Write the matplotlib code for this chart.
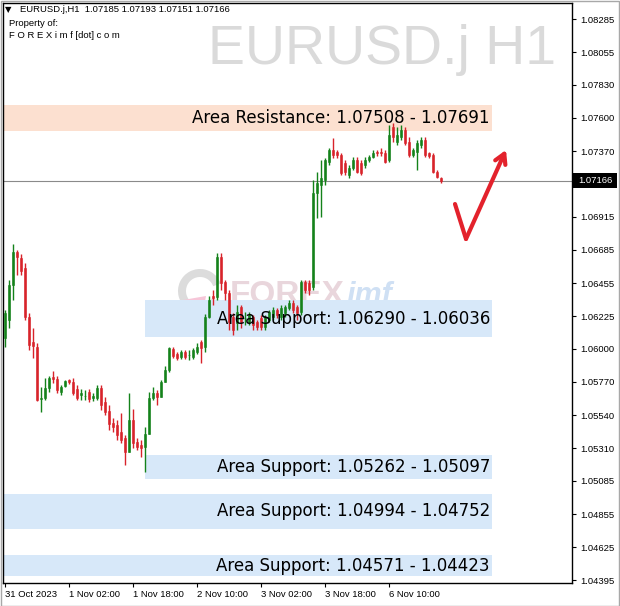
import numpy as np
import matplotlib
matplotlib.use('Agg')
import matplotlib.pyplot as plt
from matplotlib.patches import Rectangle, Wedge, Polygon
from matplotlib.transforms import IdentityTransform

plt.rcParams["font.family"] = ["Liberation Sans", "DejaVu Sans"]

# EURUSD.j H1 bars, 31 Oct 10:00 -> 6 Nov 23:00
opens = [1.06075, 1.06199, 1.06442, 1.06671, 1.06629, 1.06560, 1.06220, 1.06047, 1.06012, 1.05652,
         1.05659, 1.05728, 1.05804, 1.05791, 1.05700, 1.05742, 1.05784, 1.05770, 1.05721, 1.05680,
         1.05673, 1.05700, 1.05659, 1.05659, 1.05728, 1.05631, 1.05569, 1.05486, 1.05472, 1.05423,
         1.05382, 1.05285, 1.05506, 1.05354, 1.05333, 1.05319, 1.05409, 1.05659, 1.05694, 1.05666,
         1.05770, 1.05853, 1.05998, 1.05964, 1.05943, 1.05978, 1.05957, 1.05943, 1.05978, 1.06047,
         1.06012, 1.06220, 1.06366, 1.06359, 1.06636, 1.06463, 1.06387, 1.06220, 1.06179, 1.06290,
         1.06213, 1.06186, 1.06220, 1.06186, 1.06213, 1.06151, 1.06199, 1.06220, 1.06269, 1.06220,
         1.06248, 1.06283, 1.06317, 1.06290, 1.06255, 1.06463, 1.06456, 1.06428, 1.07080, 1.07135,
         1.07170, 1.07294, 1.07378, 1.07364, 1.07343, 1.07287, 1.07204, 1.07253, 1.07308, 1.07287,
         1.07274, 1.07308, 1.07329, 1.07364, 1.07364, 1.07357, 1.07308, 1.07537, 1.07433, 1.07468,
         1.07516, 1.07433, 1.07343, 1.07364, 1.07412, 1.07447, 1.07357, 1.07343, 1.07225, 1.07185]
highs = [1.06269, 1.06477, 1.06726, 1.06685, 1.06657, 1.06594, 1.06248, 1.06144, 1.06040, 1.05735,
         1.05797, 1.05811, 1.05846, 1.05811, 1.05749, 1.05784, 1.05791, 1.05797, 1.05749, 1.05721,
         1.05714, 1.05721, 1.05694, 1.05749, 1.05749, 1.05666, 1.05610, 1.05520, 1.05506, 1.05555,
         1.05402, 1.05694, 1.05583, 1.05382, 1.05368, 1.05458, 1.05700, 1.05735, 1.05714, 1.05784,
         1.05881, 1.06012, 1.06012, 1.05978, 1.05992, 1.05992, 1.05992, 1.06005, 1.06040, 1.06061,
         1.06241, 1.06366, 1.06407, 1.06664, 1.06664, 1.06477, 1.06407, 1.06248, 1.06303, 1.06303,
         1.06255, 1.06255, 1.06234, 1.06199, 1.06234, 1.06234, 1.06269, 1.06290, 1.06283, 1.06303,
         1.06303, 1.06338, 1.06338, 1.06303, 1.06477, 1.06477, 1.06477, 1.07170, 1.07225, 1.07308,
         1.07322, 1.07391, 1.07461, 1.07378, 1.07357, 1.07308, 1.07274, 1.07329, 1.07329, 1.07308,
         1.07329, 1.07343, 1.07378, 1.07378, 1.07391, 1.07378, 1.07551, 1.07565, 1.07537, 1.07551,
         1.07537, 1.07468, 1.07391, 1.07447, 1.07468, 1.07468, 1.07364, 1.07357, 1.07239, 1.07193]
lows = [1.06012, 1.06144, 1.06338, 1.06511, 1.06511, 1.06199, 1.05992, 1.05936, 1.05638, 1.05562,
        1.05645, 1.05700, 1.05763, 1.05694, 1.05680, 1.05735, 1.05756, 1.05680, 1.05645, 1.05645,
        1.05645, 1.05631, 1.05638, 1.05645, 1.05576, 1.05541, 1.05437, 1.05423, 1.05368, 1.05347,
        1.05195, 1.05285, 1.05312, 1.05299, 1.05250, 1.05146, 1.05409, 1.05645, 1.05610, 1.05666,
        1.05770, 1.05839, 1.05936, 1.05922, 1.05929, 1.05929, 1.05922, 1.05929, 1.05964, 1.05901,
        1.05978, 1.06213, 1.06303, 1.06338, 1.06407, 1.06338, 1.06130, 1.06095, 1.06130, 1.06144,
        1.06165, 1.06165, 1.06130, 1.06130, 1.06130, 1.06130, 1.06186, 1.06199, 1.06213, 1.06199,
        1.06220, 1.06269, 1.06248, 1.06199, 1.06234, 1.06387, 1.06373, 1.06407, 1.06906, 1.06913,
        1.07135, 1.07274, 1.07322, 1.07322, 1.07204, 1.07204, 1.07184, 1.07239, 1.07218, 1.07204,
        1.07253, 1.07294, 1.07322, 1.07336, 1.07336, 1.07287, 1.07294, 1.07433, 1.07412, 1.07447,
        1.07412, 1.07329, 1.07329, 1.07239, 1.07391, 1.07329, 1.07322, 1.07218, 1.07184, 1.07151]
closes = [1.06248, 1.06442, 1.06671, 1.06636, 1.06539, 1.06220, 1.06026, 1.06019, 1.05645, 1.05659,
          1.05728, 1.05797, 1.05791, 1.05714, 1.05735, 1.05777, 1.05770, 1.05694, 1.05659, 1.05694,
          1.05673, 1.05652, 1.05673, 1.05728, 1.05610, 1.05562, 1.05479, 1.05458, 1.05402, 1.05368,
          1.05285, 1.05506, 1.05347, 1.05319, 1.05312, 1.05409, 1.05659, 1.05694, 1.05666, 1.05770,
          1.05853, 1.06005, 1.05950, 1.05936, 1.05978, 1.05943, 1.05957, 1.05992, 1.06012, 1.06005,
          1.06220, 1.06338, 1.06352, 1.06636, 1.06456, 1.06387, 1.06186, 1.06130, 1.06255, 1.06186,
          1.06213, 1.06234, 1.06165, 1.06151, 1.06151, 1.06220, 1.06255, 1.06269, 1.06234, 1.06283,
          1.06290, 1.06317, 1.06269, 1.06248, 1.06463, 1.06407, 1.06407, 1.07080, 1.07149, 1.07184,
          1.07308, 1.07378, 1.07343, 1.07343, 1.07218, 1.07225, 1.07253, 1.07308, 1.07225, 1.07218,
          1.07308, 1.07329, 1.07357, 1.07357, 1.07357, 1.07294, 1.07481, 1.07468, 1.07481, 1.07516,
          1.07426, 1.07343, 1.07378, 1.07426, 1.07447, 1.07343, 1.07336, 1.07225, 1.07190, 1.07166]

time_bars = [0, 16, 32, 48, 64, 80, 96]
time_labels = ['31 Oct 2023', '1 Nov 02:00', '1 Nov 18:00', '2 Nov 10:00',
               '3 Nov 02:00', '3 Nov 18:00', '6 Nov 10:00']
price_ticks = [1.08285, 1.08055, 1.07830, 1.07600, 1.07370, 1.07140, 1.06915, 1.06685, 1.06455,
               1.06225, 1.06000, 1.05770, 1.05540, 1.05310, 1.05085, 1.04855, 1.04625, 1.04395]
last_price = 1.07166

# zones: label, quoted levels, drawn rectangle edges, first bar (None = off the left edge)
zone_names = ['Area Resistance', 'Area Support', 'Area Support', 'Area Support', 'Area Support']
zone_q1 = [1.07508, 1.06290, 1.05262, 1.04994, 1.04571]
zone_q2 = [1.07691, 1.06036, 1.05097, 1.04752, 1.04423]
zone_top = [1.07691, 1.06337, 1.05262, 1.04994, 1.04571]
zone_bot = [1.07508, 1.06080, 1.05097, 1.04752, 1.04423]
zone_from = [None, 35, 35, None, None]

GREEN = '#14821a'
RED = '#d8232a'
W, H = 620, 606

fig = plt.figure(figsize=(W / 100, H / 100), dpi=100)
ax = fig.add_axes([3 / W, 1 - 583 / H, 569 / W, 580 / H])
ax.set_xlim(-0.5, 141.75)
ax.set_ylim(1.04377, 1.08396)

o = np.array(opens); h = np.array(highs); l = np.array(lows); c = np.array(closes)
x = np.arange(len(o))
cols = np.where(c >= o, GREEN, RED)

# zones
for i in range(len(zone_names)):
    x0 = -0.5 if zone_from[i] is None else zone_from[i]
    fc = '#fce0d0' if i == 0 else '#d7e8f9'
    ax.add_patch(Rectangle((x0, zone_bot[i]), 121.75 - x0, zone_top[i] - zone_bot[i],
                           facecolor=fc, edgecolor='none', zorder=1))
    ax.text(121.25, (zone_top[i] + zone_bot[i]) / 2,
            '%s: %.5f - %.5f' % (zone_names[i], zone_q1[i], zone_q2[i]),
            ha='right', va='center', fontsize=12.0, family='DejaVu Sans', color='black', zorder=8)

# watermarks (pixel positions)
pix = IdentityTransform()
ax.text(556, H - 64, 'EURUSD.j H1', transform=pix, ha='right', va='baseline',
        fontsize=40, color='#dadada', zorder=0.5)
ax.add_patch(Wedge((200, H - 291), 22, 20, 330, width=8, facecolor='#dcdcdc',
                   edgecolor='none', transform=pix, zorder=0.5))
ax.add_patch(Polygon([(183, H - 300), (206, H - 296), (203, H - 312)], closed=True,
                     facecolor='#f6c6d8', edgecolor='none', transform=pix, zorder=0.5))
ax.text(230, H - 296, 'FOREX', transform=pix, va='center', fontsize=24, fontweight='bold',
        color='#e9d6dc', zorder=0.5)
ax.text(346, H - 296, 'imf', transform=pix, va='center', fontsize=22, fontweight='bold',
        fontstyle='italic', color='#cfe0f4', zorder=0.5)

# current price line
ax.axhline(last_price, color='#8a8a8a', lw=0.8, zorder=2)

# candles
ax.vlines(x, l, h, colors=cols, lw=1, zorder=3)
ax.bar(x, np.maximum(np.abs(c - o), 0.00001), bottom=np.minimum(o, c), width=0.72,
       color=cols, edgecolor=cols, lw=0.4, zorder=4)

# red arrow
ax.plot([112.5, 115.25], [1.07003, 1.06761], color='#e3222c', lw=3, solid_capstyle='round', zorder=6)
ax.annotate('', xy=(125.25, 1.07378), xytext=(115.25, 1.06761),
            arrowprops=dict(arrowstyle='->,head_length=0.7,head_width=0.4', color='#e3222c',
                            lw=3, shrinkA=0, shrinkB=0), zorder=6)

# axes styling
for s in ax.spines.values():
    s.set_color('black')
    s.set_linewidth(1)
ax.yaxis.tick_right()
ax.set_yticks(price_ticks)
# the tick under the current price tag is covered in the reference
ax.set_yticklabels(['' if abs(p - last_price) < 0.0005 else '%.5f' % p for p in price_ticks])
ax.tick_params(axis='y', length=3, width=0.8, pad=3, labelsize=6.8, colors='black')
ax.set_xticks(time_bars)
ax.set_xticklabels(time_labels, ha='left')
ax.tick_params(axis='x', length=3, width=0.8, pad=2, labelsize=6.8, colors='black')

# current price tag on the price scale
yt = ax.get_yaxis_transform()
ax.add_patch(Rectangle((1.0018, last_price - 0.00049), 0.0773, 0.00098, transform=yt,
                       facecolor='black', edgecolor='none', clip_on=False, zorder=9))
ax.text(1.0105, last_price, '%.5f' % last_price, transform=yt, ha='left', va='center',
        fontsize=6.8, color='white', clip_on=False, zorder=10)

# header
fig.text(5 / W, 1 - 10 / H, '\u25bc', fontsize=6, family='DejaVu Sans', va='center')
fig.text(20 / W, 1 - 10 / H, 'EURUSD.j,H1  1.07185 1.07193 1.07151 1.07166', fontsize=6.8, va='center')
fig.text(9 / W, 1 - 24 / H, 'Property of:', fontsize=6.8, va='center')
fig.text(9 / W, 1 - 36 / H, 'F O R E X i m f [dot] c o m', fontsize=6.8, va='center')

# outer frame
fig.patches.append(Rectangle((0.5, 0.5), W - 1.5, H - 1.5, transform=pix, fill=False,
                             edgecolor='#a8a8a8', lw=1))

fig.savefig('out.png', dpi=100)
